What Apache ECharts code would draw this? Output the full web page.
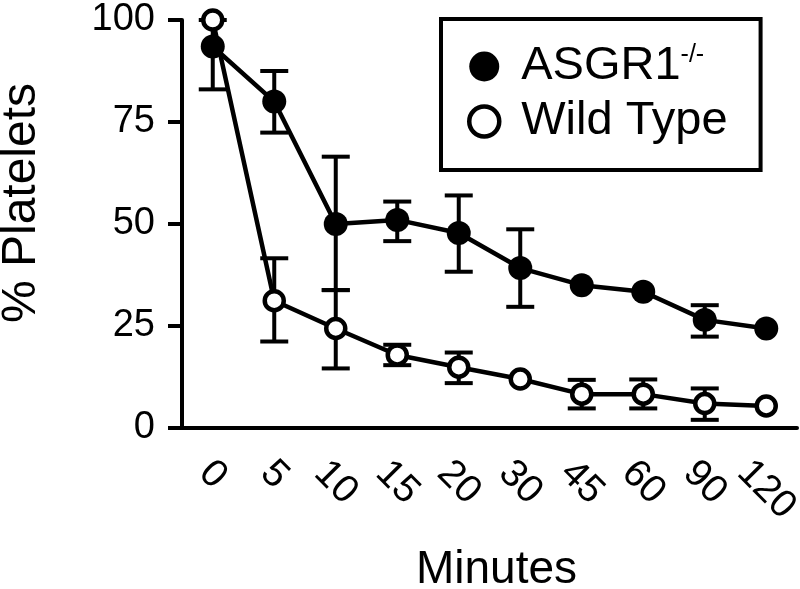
<!DOCTYPE html>
<html>
<head>
<meta charset="utf-8">
<script src="https://cdn.jsdelivr.net/npm/echarts@6/dist/echarts.min.js"></script>
<style>html,body{margin:0;padding:0;background:#fff;}#c{width:800px;height:589px;}</style>
</head>
<body>
<div id="c"></div>
<script>
const categories = ['0', '5', '10', '15', '20', '30', '45', '60', '90', '120'];
const asgrMean = [93.5, 80, 50, 51, 47.8, 39.2, 35, 33.4, 26.5, 24.4];
const asgrLow  = [83, 72.4, 33.8, 45.8, 38.3, 29.7, null, null, 22.4, null];
const asgrHigh = [100, 87.5, 66.5, 55.5, 57, 48.7, null, null, 30.1, null];
const wtMean = [100, 31.2, 24.4, 17.9, 14.9, 12, 8.3, 8.3, 6.0, 5.4];
const wtLow  = [null, 21.2, 14.6, 15.4, 11, null, 4.8, 4.8, 2, null];
const wtHigh = [null, 41.6, 33.8, 20.4, 18.5, null, 11.8, 11.9, 9.7, null];
const yMin = 0, yMax = 100, yStep = 25;

const FONT = "'Liberation Sans', Arial, Helvetica, sans-serif";

function errData(low, high) {
  const out = [];
  for (let i = 0; i < categories.length; i++) {
    if (low[i] != null && high[i] != null) out.push([i, low[i], high[i]]);
  }
  return out;
}

function renderErr(params, api) {
  const x = api.value(0);
  const lo = api.coord([x, api.value(1)]);
  const hi = api.coord([x, api.value(2)]);
  const half = 14;
  const st = { stroke: '#000', lineWidth: 4, fill: null };
  return {
    type: 'group',
    children: [
      { type: 'line', shape: { x1: lo[0], y1: lo[1], x2: hi[0], y2: hi[1] }, style: st },
      { type: 'line', shape: { x1: lo[0] - half, y1: lo[1], x2: lo[0] + half, y2: lo[1] }, style: st },
      { type: 'line', shape: { x1: hi[0] - half, y1: hi[1], x2: hi[0] + half, y2: hi[1] }, style: st }
    ]
  };
}

function labelStyleName(s) {
  return s.length === 1 ? 'l1' : (s.length === 2 ? 'l2' : 'l3');
}

const chart = echarts.init(document.getElementById('c'), null, { renderer: 'canvas' });
chart.setOption({
  animation: false,
  backgroundColor: '#fff',
  textStyle: { fontFamily: FONT, color: '#000' },
  grid: { left: 182, right: 3, top: 20, bottom: 161, containLabel: false, outerBoundsMode: 'none' },
  legend: {
    orient: 'vertical',
    left: 441,
    top: 19,
    padding: [24, 33, 25, 26],
    itemWidth: 64,
    itemHeight: 30,
    itemGap: 8,
    borderColor: '#000',
    borderWidth: 4,
    selectedMode: false,
    data: [
      { name: 'ASGR1', icon: 'circle', itemStyle: { color: '#000', borderWidth: 0 } },
      { name: 'Wild Type', icon: 'circle', itemStyle: { color: '#fff', borderColor: '#000', borderWidth: 4.5 } }
    ],
    formatter: function (name) {
      return name === 'ASGR1' ? '{m|ASGR1}{s|-/-}' : '{m|Wild Type}';
    },
    textStyle: {
      color: '#000',
      fontFamily: FONT,
      rich: {
        m: { fontSize: 47, fontFamily: FONT, color: '#000' },
        s: { fontSize: 25, fontFamily: FONT, color: '#000', verticalAlign: 'top' }
      }
    }
  },
  xAxis: {
    type: 'category',
    data: categories,
    boundaryGap: true,
    name: 'Minutes',
    nameLocation: 'middle',
    nameGap: 119,
    nameTextStyle: { fontSize: 46, fontFamily: FONT, color: '#000', padding: [0, 0, 0, 14] },
    axisLine: { lineStyle: { color: '#000', width: 4 } },
    axisTick: { alignWithLabel: true, length: 15, lineStyle: { color: '#000', width: 4 } },
    axisLabel: {
      interval: 0,
      rotate: -45,
      margin: 39,
      align: 'center',
      verticalAlign: 'middle',
      fontSize: 39,
      fontFamily: FONT,
      color: '#000',
      formatter: function (v) { return '{' + labelStyleName(v) + '|' + v + '}'; },
      rich: {
        l1: { fontSize: 39, fontFamily: FONT, color: '#000', padding: [11, 0, 0, 11] },
        l2: { fontSize: 39, fontFamily: FONT, color: '#000', padding: [22, 0, 0, 22] },
        l3: { fontSize: 39, fontFamily: FONT, color: '#000', padding: [32, 0, 0, 32] }
      }
    },
    splitLine: { show: false }
  },
  yAxis: {
    type: 'value',
    min: yMin,
    max: yMax,
    interval: yStep,
    name: '% Platelets',
    nameLocation: 'middle',
    nameRotate: 90,
    nameGap: 136,
    nameTextStyle: { fontSize: 48, fontFamily: FONT, color: '#000', padding: [0, 0, 0, 42] },
    axisLine: { show: true, lineStyle: { color: '#000', width: 4 } },
    axisTick: { show: true, length: 14, lineStyle: { color: '#000', width: 4 } },
    axisLabel: { fontSize: 38, fontFamily: FONT, color: '#000', margin: 27 },
    splitLine: { show: false }
  },
  series: [
    {
      name: 'asgrErr', type: 'custom', renderItem: renderErr, z: 1,
      data: errData(asgrLow, asgrHigh), encode: { x: 0, y: [1, 2] }, clip: false
    },
    {
      name: 'wtErr', type: 'custom', renderItem: renderErr, z: 1,
      data: errData(wtLow, wtHigh), encode: { x: 0, y: [1, 2] }, clip: false
    },
    {
      name: 'ASGR1', type: 'line', data: asgrMean, z: 3, clip: false,
      symbol: 'circle', symbolSize: 24,
      lineStyle: { color: '#000', width: 4.5 },
      itemStyle: { color: '#000', borderWidth: 0 }
    },
    {
      name: 'Wild Type', type: 'line', data: wtMean, z: 4, clip: false,
      symbol: 'circle', symbolSize: 19,
      lineStyle: { color: '#000', width: 4.5 },
      itemStyle: { color: '#fff', borderColor: '#000', borderWidth: 4.5 }
    }
  ]
});
</script>
</body>
</html>
